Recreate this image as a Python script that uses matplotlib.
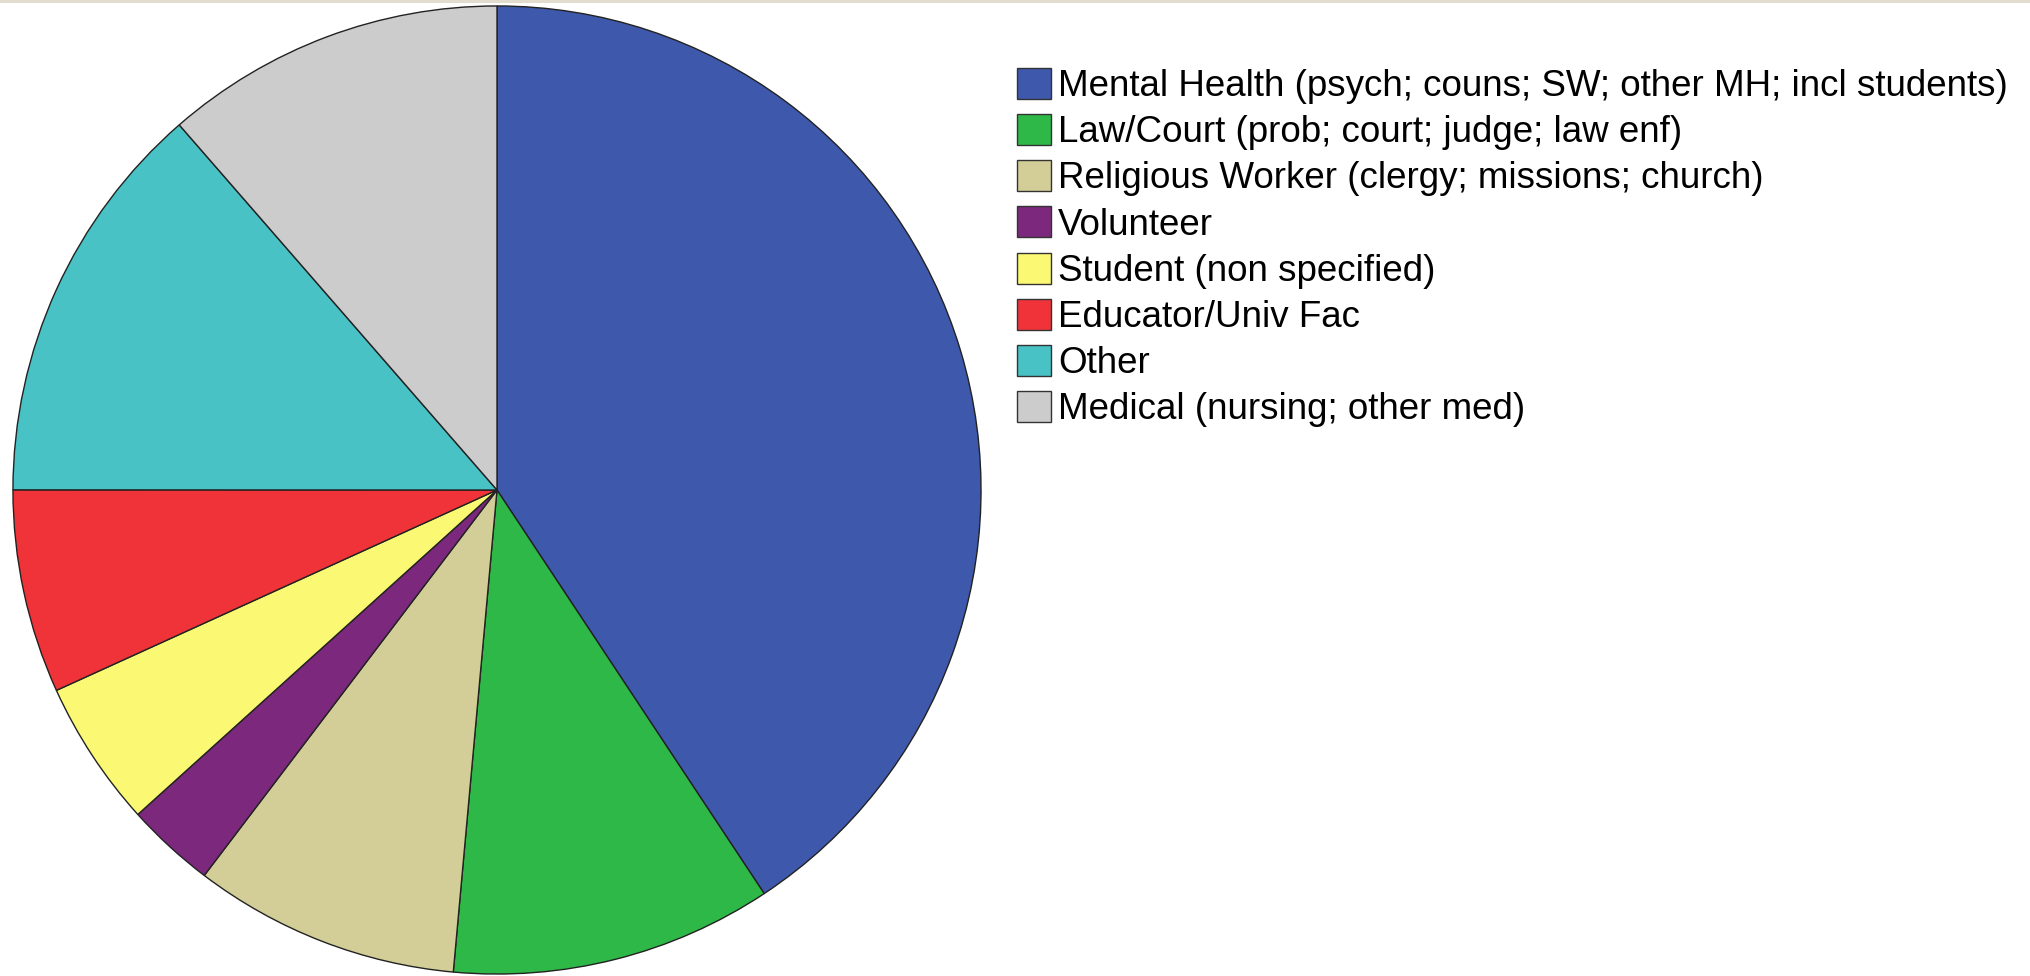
import matplotlib
matplotlib.use("Agg")
import matplotlib.pyplot as plt
from matplotlib.patches import Rectangle

# occupation groups (percent of respondents)
labels = [
    "Mental Health (psych; couns; SW; other MH; incl students)",
    "Law/Court (prob; court; judge; law enf)",
    "Religious Worker (clergy; missions; church)",
    "Volunteer",
    "Student (non specified)",
    "Educator/Univ Fac",
    "Other",
    "Medical (nursing; other med)",
]
shares = [40.7, 10.75, 8.9, 2.97, 4.9, 6.8, 13.6, 11.4]
colors = ["#3E58AC", "#2EB848", "#D3CE97", "#7C287D",
          "#FBF873", "#EF3338", "#48C2C5", "#CCCCCC"]

W, H = 2031, 976
fig = plt.figure(figsize=(W / 100, H / 100), dpi=100)
fig.patch.set_facecolor("white")

# thin beige strip along the top edge
fig.patches.append(Rectangle((0, 1 - 3 / H), 1, 3 / H, transform=fig.transFigure,
                             facecolor="#E2DCCF", edgecolor="none"))

# pie axes: centre (497, 490) px, radius 485 px
cx, cy, r = 497, 490, 485
ax = fig.add_axes([(cx - r) / W, (H - cy - r) / H, 2 * r / W, 2 * r / H])
wedges, _ = ax.pie(shares, colors=colors, startangle=90, counterclock=False,
                   radius=1.0,
                   wedgeprops=dict(edgecolor="#222222", linewidth=1.0))
ax.set_xlim(-1.002, 1.002)
ax.set_ylim(-1.002, 1.002)
ax.set_aspect("equal")
ax.axis("off")

fs = 26.5
leg = fig.legend(wedges, labels, loc="upper left",
                 bbox_to_anchor=(1017 / W, 1 - 68 / H),
                 frameon=False, prop={"family": "Liberation Sans", "size": fs},
                 handlelength=0.92, handleheight=0.92, handletextpad=0.2,
                 labelspacing=0.27, borderpad=0, borderaxespad=0)
for h in leg.legend_handles:
    h.set_edgecolor("#333333")
    h.set_linewidth(1.0)

fig.savefig("out.png", dpi=100, facecolor="white")
